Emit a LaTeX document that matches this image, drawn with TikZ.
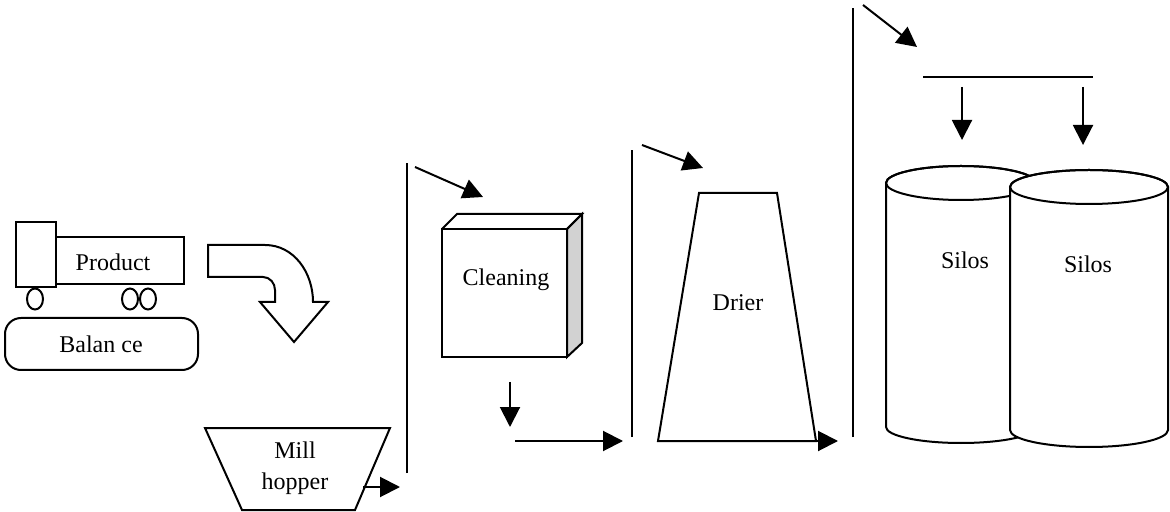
\documentclass[tikz,border=0pt]{standalone}
\usepackage{fontspec}
\setmainfont{Liberation Serif}
\usetikzlibrary{arrows.meta}

\begin{document}
\begin{tikzpicture}[x=0.5pt, y=-0.5pt, line width=1pt,
  flow/.style = {-{Triangle[length=10pt,width=10pt]}},
  lbl/.style = {font=\fontsize{12}{15.5}\selectfont, inner sep=0pt, align=center}]
\useasboundingbox (0,0) rectangle (1170,512);

% truck on the balance
\draw (16,222) rectangle (56,287);
\draw (56,237) rectangle (184,284);
\node[lbl] (product) at (113,262) {Product};
\draw (35,299) ellipse [x radius=8, y radius=10.5];
\draw (130,299) ellipse [x radius=8, y radius=10.5];
\draw (148,299) ellipse [x radius=8, y radius=10.5];
\draw[rounded corners=8pt] (5,318) rectangle (198,370);
\node[lbl] (balance) at (101,344) {Balan ce};

% bent block arrow
\draw (208,245) -- (265,245) to[out=0,in=90] (313,302) -- (328,302) -- (294,342)
  -- (260,302) -- (275,302) -- (275,290) to[out=90,in=0] (263,277) -- (208,277) -- cycle;

% mill hopper
\draw (205,428) -- (390,428) -- (355,510) -- (242,510) -- cycle;
\node[lbl] (hopper) at (295,468) {Mill\\hopper};
\coordinate (hopperout) at (363,487);
\coordinate (hopperend) at (400,487);
\draw[flow] (hopperout) -- (hopperend);

% first lift
\coordinate (lift1b) at (407,473);
\coordinate (lift1t) at (407,163);
\draw (lift1b) -- (lift1t);
\coordinate (feed1a) at (415,167);
\coordinate (feed1b) at (483,197);
\draw[flow] (feed1a) -- (feed1b);

% cleaning box
\filldraw[fill=gray!35] (567,229) -- (582,214) -- (582,343) -- (567,357) -- cycle;
\draw (442,229) -- (457,214) -- (582,214) -- (567,229);
\draw (442,229) rectangle (567,357);
\node[lbl] (cleaning) at (506,280) {Cleaning};
\coordinate (clean1) at (510,382);
\coordinate (clean2) at (510,427);
\draw[flow] (clean1) -- (clean2);
\coordinate (clean3) at (515,441);
\coordinate (clean4) at (623,441);
\draw[flow] (clean3) -- (clean4);

% second lift
\coordinate (lift2b) at (632,437);
\coordinate (lift2t) at (632,150);
\draw (lift2b) -- (lift2t);
\coordinate (feed2a) at (642,145);
\coordinate (feed2b) at (703,168);
\draw[flow] (feed2a) -- (feed2b);

% drier
\draw (699,193) -- (777,193) -- (816,441) -- (658,441) -- cycle;
\node[lbl] (drier) at (738,303) {Drier};
\coordinate (drierout) at (816,441);
\coordinate (drierend) at (838,441);
\draw[flow] (drierout) -- (drierend);

% third lift and distributor
\coordinate (lift3b) at (853,437);
\coordinate (lift3t) at (853,8);
\draw (lift3b) -- (lift3t);
\coordinate (feed3a) at (863,5);
\coordinate (feed3b) at (917,47);
\draw[flow] (feed3a) -- (feed3b);
\coordinate (distl) at (923,77);
\coordinate (distr) at (1093,77);
\draw (distl) -- (distr);
\coordinate (drop1a) at (962,87);
\coordinate (drop1b) at (962,140);
\draw[flow] (drop1a) -- (drop1b);
\coordinate (drop2a) at (1083,87);
\coordinate (drop2b) at (1083,145);
\draw[flow] (drop2a) -- (drop2b);

% silos
\filldraw[fill=white] (886,183) -- (886,427) arc[start angle=180, end angle=0, x radius=75, y radius=16]
  -- (1036,183) arc[start angle=0, end angle=-180, x radius=75, y radius=17] -- cycle;
\draw (961,183) ellipse [x radius=75, y radius=17];
\filldraw[fill=white] (1010,187) -- (1010,430) arc[start angle=180, end angle=0, x radius=79, y radius=17]
  -- (1168,187) arc[start angle=0, end angle=-180, x radius=79, y radius=17] -- cycle;
\draw (1089,187) ellipse [x radius=79, y radius=17];
\node[lbl] (silo1) at (965,260) {Silos};
\node[lbl] (silo2) at (1088,264) {Silos};
\end{tikzpicture}
\end{document}
